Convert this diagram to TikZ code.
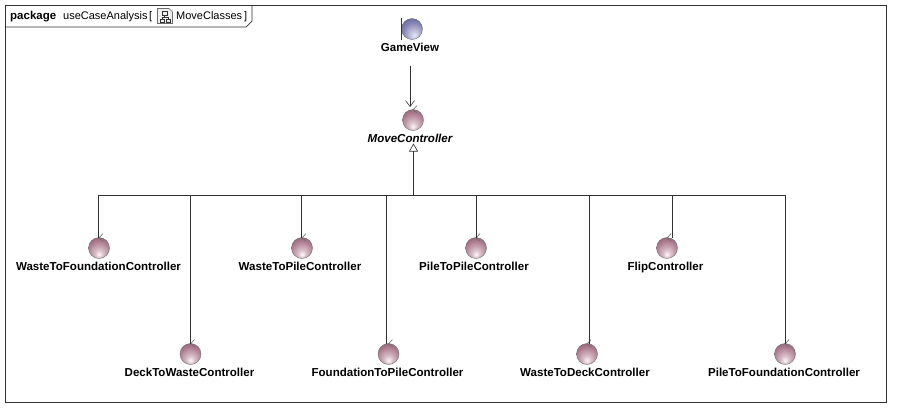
\documentclass[tikz,border=0pt]{standalone}
\usepackage{fontspec}
\setmainfont{Liberation Sans}
\usetikzlibrary{arrows.meta,positioning}
\definecolor{linec}{RGB}{50,50,50}
\definecolor{ticks}{RGB}{110,110,110}
\definecolor{ctrlmid}{RGB}{175,125,145}
\definecolor{ctrlout}{RGB}{122,72,92}
\definecolor{viewmid}{RGB}{130,130,180}
\definecolor{viewout}{RGB}{82,82,138}
\pgfdeclareradialshading{ctrlball}{\pgfpoint{0bp}{-16bp}}{color(0bp)=(white!88!pink);color(10bp)=(white!50!ctrlmid);color(26bp)=(ctrlmid);color(46bp)=(ctrlout);color(70bp)=(ctrlout)}
\pgfdeclareradialshading{viewball}{\pgfpoint{6bp}{-16bp}}{color(0bp)=(white!90!blue);color(10bp)=(white!50!viewmid);color(26bp)=(viewmid);color(46bp)=(viewout);color(70bp)=(viewout)}
\tikzset{
  x=1pt,y=-1pt,
  ball/.style={circle,inner sep=0pt,minimum size=21pt,draw=linec!70,line width=.4pt},
  ctrl/.style={ball,shading=ctrlball},
  viewb/.style={ball,shading=viewball},
  lbl/.style={font=\fontsize{11.55}{13}\selectfont\bfseries,inner sep=0pt,text=black,anchor=base},
  head/.style={anchor=base west,inner sep=0pt,font=\fontsize{11}{13}\selectfont},
  conn/.style={draw=linec,line width=.7pt},
  tick/.style={draw=ticks,line width=.6pt},
}
\newcommand{\ctrlball}[5]{% name, x, y, label, label x
  \node[ctrl] (#1) at (#2,#3) {};
  \node[lbl] (#1L) at (#5,#3+22) {#4};
  \draw[tick] (#2+4,#3-14.5) -- (#2,#3-10) -- (#2+4,#3-7);
}
\begin{document}
\begin{tikzpicture}
\useasboundingbox (0,0) rectangle (899,416);
\fill[white] (0,0) rectangle (899,416);
% frame and tab
\node[draw=linec,line width=.7pt,minimum width=881pt,minimum height=396.5pt,inner sep=0pt,anchor=north west] (frame) at (5,5) {};
\draw[conn] (5,27) -- (246,27) -- (252,21) -- (252,5);
\node[head,font=\fontsize{11.5}{13}\selectfont\bfseries] (title) at (10,19) {package};
\node[head] (title1) at (63,19) {useCaseAnalysis};
\node[head] (title2) at (149,19) {[};
\node[head] (title3) at (176,19) {MoveClasses};
\node[head] (title4) at (244,19) {]};
% icon
\fill[gray!12] (157.5,8.5) rectangle (172.5,23.5);
\draw[ticks,line width=.6pt] (157.5,23.5) -- (157.5,8.5) -- (169,8.5) -- (172.5,12) -- (172.5,23.5) -- cycle;
\draw[linec,line width=.6pt] (162,11) rectangle (167,15) (160,19) rectangle (164,22) (166,19) rectangle (170,22) (164.5,15) -- (164.5,17) (162,19) -- (162,17) -- (168,17) -- (168,19);
% top
\node[viewb] (gv) at (412,29) {};
\draw[linec,line width=.8pt] (401.5,18) -- (401.5,40);
\node[lbl] (gvL) at (410,51) {GameView};
\node[ctrl] (mc) at (413,120) {};
\draw[tick] (417,105.5) -- (413,110) -- (417,113);
\node[lbl,font=\fontsize{11.55}{13}\selectfont\bfseries\itshape] (mcL) at (410,142) {MoveController};
\coordinate (gvS) at (410,65.5);
\coordinate (gvE) at (410,107);
\draw[conn,-{Straight Barb[length=6pt,width=9pt,line width=.6pt]}] (gvS) -- (gvE);
% children
\ctrlball{a}{99}{248}{WasteToFoundationController}{98.5}
\ctrlball{b}{190.5}{354}{DeckToWasteController}{189.5}
\ctrlball{c}{302}{248}{WasteToPileController}{300}
\ctrlball{d}{388.5}{354}{FoundationToPileController}{387.5}
\ctrlball{e}{476}{248}{PileToPileController}{474}
\ctrlball{f}{587}{354}{WasteToDeckController}{585}
\ctrlball{g}{667}{248}{FlipController}{665.5}
\ctrlball{h}{785}{354}{PileToFoundationController}{784}
% generalization
\coordinate (bus) at (413.5,195);
\coordinate (tip) at (413.5,143.5);
\draw[conn,-{Triangle[open,length=8pt,width=9pt,line width=.6pt]}] (bus) -- (tip);
\foreach \n/\xx/\yy in {a/98.5/238,b/190.5/344,c/301.5/238,d/386.5/344,e/476.5/238,f/589.5/344,g/672.5/238,h/785.5/344}{
  \coordinate (\n T) at (\xx,\yy);
  \draw[conn] (bus) -| (\n T);
}
\end{tikzpicture}
\end{document}
